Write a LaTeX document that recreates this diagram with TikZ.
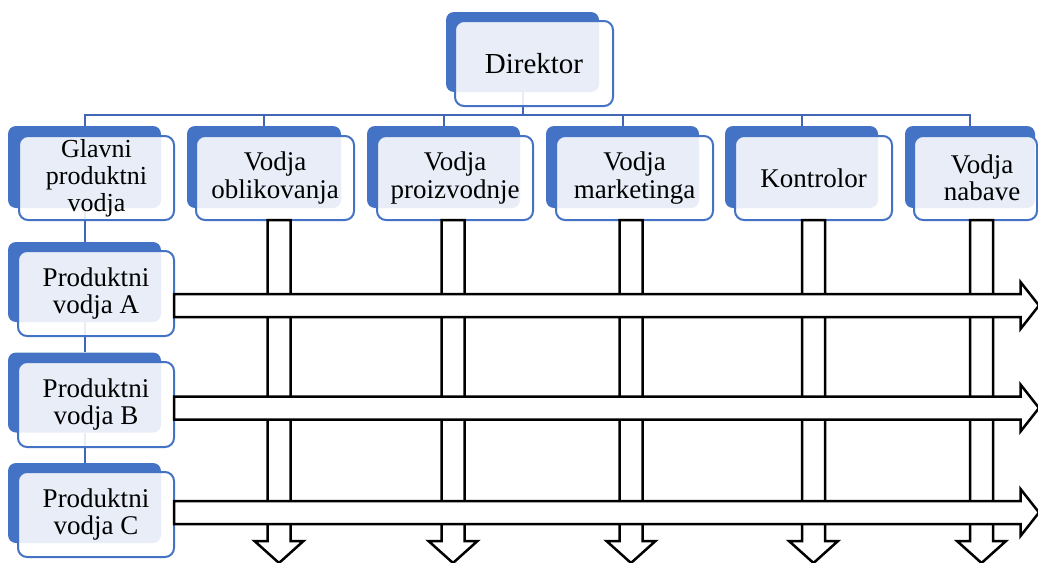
\documentclass[tikz,border=0pt]{standalone}
\usepackage{fontspec}
\setmainfont{Liberation Serif}
\definecolor{accent}{HTML}{4472C4}
\definecolor{linkblue}{HTML}{3F67B5}
\begin{document}
\begin{tikzpicture}[x=1pt,y=-1pt,
  back/.style={fill=accent, draw=none, rounded corners=8pt, inner sep=0pt},
  front/.style={draw=accent, line width=2pt, fill=white, fill opacity=0.88,
    text opacity=1, rounded corners=9pt, inner sep=0pt, align=center,
    font=\fontsize{27}{27.5}\selectfont},
  label/.style={inner sep=0pt, align=center, font=\fontsize{27}{27.5}\selectfont},
  conn/.style={draw=linkblue, line width=2pt},
  blk/.style={draw=black, line width=2.5pt, fill=white, line join=miter}]
\useasboundingbox (0,0) rectangle (1038,562);
\clip (0,0) rectangle (1038,562);

% back plates
\node[back, minimum width=153pt, minimum height=80pt] (dirB) at (522.5,52) {};
\node[back, minimum width=153pt, minimum height=82pt] (glB) at (84.5,167) {};
\node[back, minimum width=154pt, minimum height=82pt] (obB) at (264,167) {};
\node[back, minimum width=153pt, minimum height=82pt] (prB) at (443.5,167) {};
\node[back, minimum width=153pt, minimum height=82pt] (mkB) at (622.5,167) {};
\node[back, minimum width=153pt, minimum height=82pt] (koB) at (801.5,167) {};
\node[back, minimum width=130pt, minimum height=82pt] (nbB) at (970,167) {};
\node[back, minimum width=153pt, minimum height=80pt] (paB) at (84.5,282) {};
\node[back, minimum width=153pt, minimum height=80pt] (pbB) at (84.5,392.5) {};
\node[back, minimum width=153pt, minimum height=80pt] (pcB) at (84.5,503) {};

% hierarchy links
\coordinate (bus) at (0,115);
\draw[conn] (dirB.south) -- (dirB.south |- bus);
\draw[conn] (glB.north) |- (nbB.north |- bus) -- (nbB.north);
\foreach \b in {obB,prB,mkB,koB} \draw[conn] (\b.north) -- (\b.north |- bus);
\draw[conn] (glB.south) -- (paB.north);
\draw[conn] (paB.south) -- (pbB.north);
\draw[conn] (pbB.south) -- (pcB.north);

% text panels
\node[front, minimum width=158pt, minimum height=85pt,
  font=\fontsize{29}{29}\selectfont] (dir) at (534,63.5) {Direktor};
\node[front, minimum width=155pt, minimum height=84pt,
  font=\fontsize{26}{27}\selectfont] (gl) at (96.5,178) {Glavni\\produktni\\vodja};
\node[front, minimum width=158pt, minimum height=84pt] (ob) at (275,178) {Vodja\\oblikovanja};
\node[front, minimum width=156pt, minimum height=84pt] (pr) at (455,178) {Vodja\\proizvodnje};
\node[front, minimum width=157pt, minimum height=84pt] (mk) at (634.5,178) {Vodja\\marketinga};
\node[front, minimum width=157pt, minimum height=84pt] (ko) at (813.5,178) {Kontrolor};
\node[front, minimum width=123pt, minimum height=84pt] (nb) at (975.5,178) {};
\node[label] (nbT) at (982,178) {Vodja\\nabave};
\node[front, minimum width=156pt, minimum height=85pt] (pa) at (96,293.5) {Produktni\\vodja A};
\node[front, minimum width=156pt, minimum height=85pt] (pb) at (96,404.5) {Produktni\\vodja B};
\node[front, minimum width=156pt, minimum height=85pt] (pc) at (96,514.5) {Produktni\\vodja C};

% downward block arrows
\foreach \x in {279,453,631,813.5,981.5}
  \draw[blk] (\x-11.5,220) -- (\x+11.5,220) -- (\x+11.5,541) -- (\x+24.5,541)
    -- (\x,563) -- (\x-24.5,541) -- (\x-11.5,541) -- cycle;

% rightward block arrows
\foreach \y in {305.5,408,512.5}
  \draw[blk] (174,\y-11.5) -- (1020.5,\y-11.5) -- (1020.5,\y-23.5) -- (1039,\y)
    -- (1020.5,\y+23.5) -- (1020.5,\y+11.5) -- (174,\y+11.5) -- cycle;
\end{tikzpicture}
\end{document}
